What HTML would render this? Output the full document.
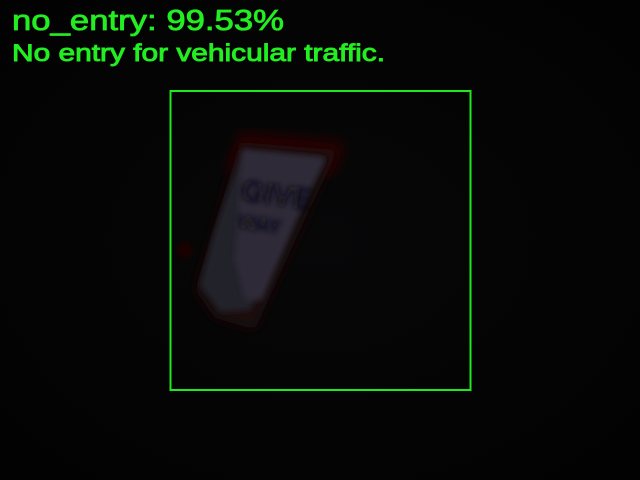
<!DOCTYPE html>
<html><head><meta charset="utf-8"><style>
html,body{margin:0;padding:0;background:#030303;width:640px;height:480px;overflow:hidden}
</style></head><body>
<svg width="640" height="480" viewBox="0 0 640 480">
<defs>
<filter id="b3"><feGaussianBlur stdDeviation="3"/></filter>
<filter id="b6"><feGaussianBlur stdDeviation="6"/></filter>
<radialGradient id="vig" cx="0.5" cy="0.5" r="0.7"><stop offset="0" stop-color="#070708"/><stop offset="1" stop-color="#020202"/></radialGradient>
</defs>
<rect width="640" height="480" fill="url(#vig)"/>
<g>
<polygon points="240,132 345,142 335,175 225,170" fill="#2a0404" filter="url(#b6)"/>
<polygon points="240,142 338,150 300,230 255,330 215,318 195,290" fill="#1a080a" filter="url(#b6)"/>
<polygon points="243,150 325,158 285,240 250,310 220,312 200,285 215,230" fill="#24212c" filter="url(#b3)"/>
<polygon points="243,150 325,158 300,210 262,300 245,300 235,260" fill="#2e2a38" filter="url(#b3)"/>
<circle cx="185" cy="250" r="8" fill="#1c0303" filter="url(#b3)"/>
<text x="240" y="200" font-family="Liberation Sans, sans-serif" font-weight="bold" font-size="30" fill="#0c0b12" transform="rotate(8 240 200)" filter="url(#b3)">GIVE</text>
<text x="237" y="228" font-family="Liberation Sans, sans-serif" font-weight="bold" font-size="20" fill="#100f18" transform="rotate(8 237 228)" filter="url(#b3)">WAY</text>
</g>
<rect x="170.5" y="91" width="300" height="299" fill="none" stroke="#1ee81e" stroke-width="2"/>
<text x="12" y="30" textLength="272" lengthAdjust="spacingAndGlyphs" font-family="Liberation Sans, sans-serif" font-size="29" fill="#22ee22" stroke="#22ee22" stroke-width="0.8">no_entry: 99.53%</text>
<text x="12" y="61" textLength="373" lengthAdjust="spacingAndGlyphs" font-family="Liberation Sans, sans-serif" font-size="24" fill="#22ee22" stroke="#22ee22" stroke-width="0.9">No entry for vehicular traffic.</text>
</svg>
</body></html>
